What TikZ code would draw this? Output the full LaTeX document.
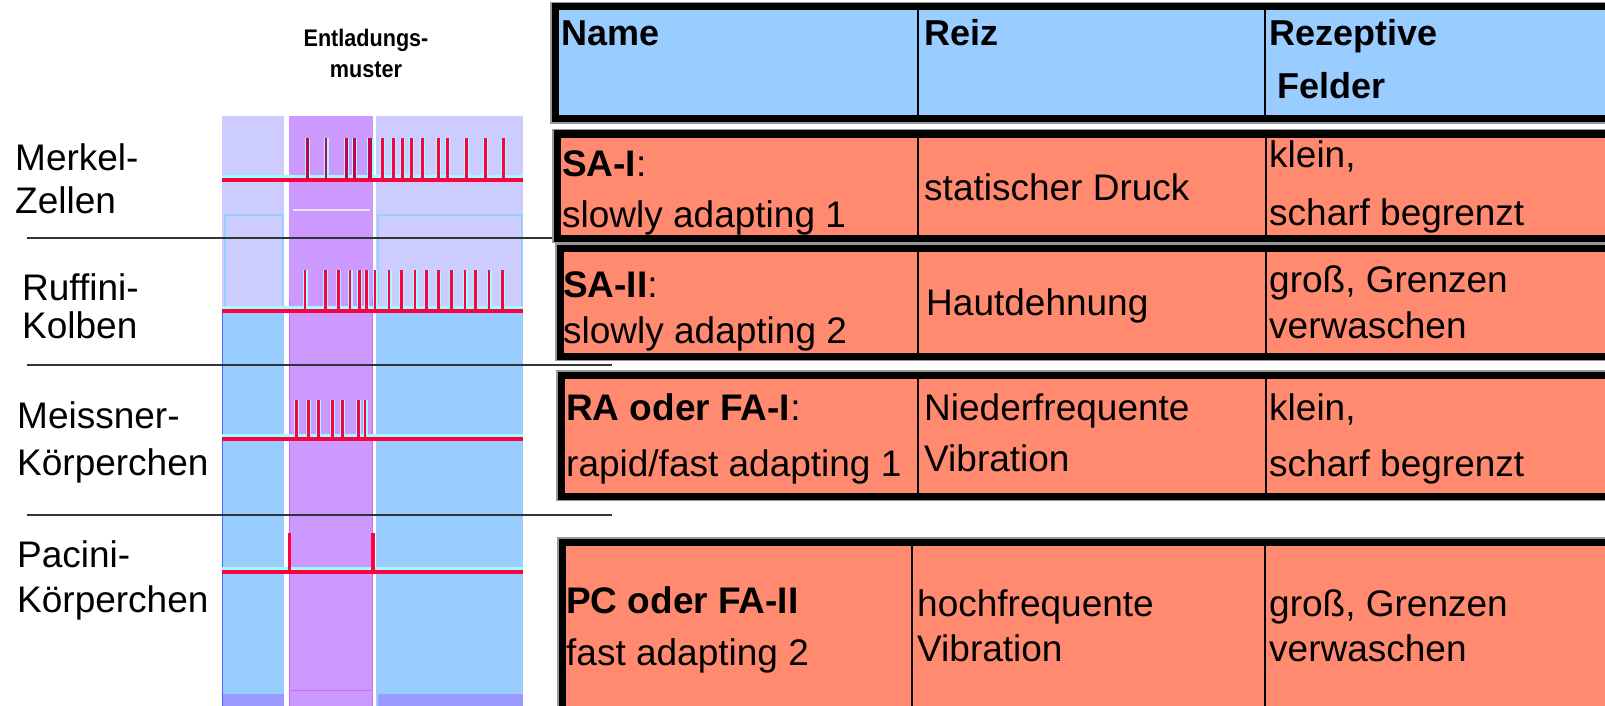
\documentclass[tikz,border=0pt]{standalone}
\usepackage{fontspec}
\setmainfont{Liberation Sans}
\definecolor{hdrblue}{HTML}{99CCFF}
\definecolor{salmon}{HTML}{FF8A70}
\definecolor{lav}{HTML}{CCCCFF}
\definecolor{purp}{HTML}{CC99FF}
\definecolor{purpedge}{HTML}{CC66FF}
\definecolor{spk}{HTML}{FF0040}
\definecolor{spkdark}{HTML}{CC0050}
\definecolor{glow}{HTML}{99FFFF}
\definecolor{strip}{HTML}{9999FF}
\newcommand\txr{\fontsize{37}{40}\selectfont}
\newcommand\txb{\fontsize{36}{40}\selectfont\bfseries}
\begin{document}
\begin{tikzpicture}[x=1pt,y=-1pt,
  lbl/.style={anchor=base west,inner sep=0pt,font=\txr},
  hdr/.style={anchor=base west,inner sep=0pt,font=\txb},
  rowbox/.style={line width=7pt,draw=black},
  rowshadow/.style={line width=10pt,draw=black!40},
  divider/.style={line width=1.6pt,draw=black},
  sepline/.style={line width=1.6pt,draw=black!80},
  glowline/.style={glow,line width=6pt},
  baseln/.style={spk,line width=4pt},
  spkglow/.style={glow,line width=5pt},
  spkline/.style={spk,line width=2.6pt}]
\useasboundingbox (0,0) rectangle (1605,706);
\clip (0,0) rectangle (1605,706);
\fill[white] (0,0) rectangle (1605,706);

% ---------- left panel (discharge patterns) ----------
\fill[lav] (222,116) rectangle (284,313);
\fill[lav] (376,116) rectangle (523,313);
\fill[hdrblue] (222,313) rectangle (284,706);
\fill[hdrblue] (376,313) rectangle (523,706);
\fill[strip] (222,694) rectangle (284,706);
\fill[strip] (378,694) rectangle (523,706);
\fill[purp] (289,116) rectangle (373,706);
\draw[purpedge,line width=1.2pt] (289.5,300) -- (289.5,706);
\draw[purpedge,line width=1.2pt] (372.5,300) -- (372.5,706);
\draw[purpedge,line width=1pt] (291,690) -- (371,690);
\draw[hdrblue,line width=1.2pt] (225,313) -- (225,215) -- (283,215) -- (283,313);
\draw[hdrblue,line width=1.2pt] (378,313) -- (378,215) -- (522,215) -- (522,313);
\draw[white!70!purp,line width=1.2pt] (293,210) -- (370,210);
\draw[blue!50!hdrblue,line width=1pt] (222.5,313) -- (222.5,706);

% Merkel
\draw[glowline] (222,178) -- (523,178);
\foreach \x in {307.7,326,346.7,354.3,382.7,393.3,402.7,411.7,422.7,438.3,447.3,466.7,485.7,503.3}
  \draw[spkglow] (\x,180) -- (\x,138);
\draw[glow,line width=7pt] (370,180) -- (370,138);
\draw[baseln] (222,180) -- (523,180);
\foreach \x in {307.7,326,346.7,354.3}
  \draw[spkdark,line width=2.6pt] (\x,180) -- (\x,138);
\draw[spkdark,line width=4.5pt] (370,180) -- (370,138);
\foreach \x in {382.7,393.3,402.7,411.7,422.7,438.3,447.3,466.7,485.7,503.3}
  \draw[spkline] (\x,180) -- (\x,138);

% Ruffini
\draw[glowline] (222,309) -- (523,309);
\foreach \x in {305,325.7,338.3,350,359.3,366.7,375,389,401.3,415,426.7,438.3,451.7,465,475.7,489,502.3}
  \draw[spkglow] (\x,311) -- (\x,270);
\draw[baseln] (222,311) -- (523,311);
\foreach \x in {305,325.7,338.3,350,359.3,366.7,375,389,401.3,415,426.7,438.3,451.7,465,475.7,489,502.3}
  \draw[spkline] (\x,311) -- (\x,270);

% Meissner
\draw[glowline] (222,437) -- (523,437);
\foreach \x in {296.7,308.3,318.3,332.7,342.3,358.3,365}
  \draw[spkglow] (\x,439) -- (\x,400);
\draw[baseln] (222,439) -- (523,439);
\foreach \x in {296.7,308.3,318.3,332.7,342.3,358.3,365}
  \draw[spkline] (\x,439) -- (\x,400);

% Pacini
\draw[glowline] (222,570) -- (523,570);
\draw[baseln] (222,572) -- (523,572);
\foreach \x in {289.5,373}
  \draw[spk,line width=3.2pt] (\x,572) -- (\x,533);

% title of discharge patterns
\node[anchor=base,inner sep=0pt,font=\fontsize{24}{26}\selectfont\bfseries] (ttl1) at (366,47) {\scalebox{0.9}[1]{Entladungs-}};
\node[anchor=base,inner sep=0pt,font=\fontsize{24}{26}\selectfont\bfseries] (ttl2) at (366,78) {\scalebox{0.9}[1]{muster}};

% receptor labels
\node[lbl] (mk1) at (15,170) {Merkel-};
\node[lbl] (mk2) at (15,213) {Zellen};
\node[lbl] (rf1) at (22,300) {Ruffini-};
\node[lbl] (rf2) at (22,338) {Kolben};
\node[lbl] (ms1) at (17,428) {Meissner-};
\node[lbl] (ms2) at (17,475) {Körperchen};
\node[lbl] (pc1) at (17,567) {Pacini-};
\node[lbl] (pc2) at (17,612) {Körperchen};

% separator lines
\draw[sepline] (27,238) -- (555,238);
\draw[sepline] (27,365) -- (612,365);
\draw[sepline] (27,515) -- (612,515);

% ---------- table ----------
% header
\draw[rowshadow] (555,7) rectangle (1640,119);
\draw[rowbox,fill=hdrblue] (555,7) rectangle (1640,119);
\draw[divider] (918,10) -- (918,116);
\draw[divider] (1265,10) -- (1265,116);
% SA-I
\draw[rowshadow] (557,134) rectangle (1640,238);
\draw[rowbox,fill=salmon] (557,134) rectangle (1640,238);
\draw[divider] (918,137) -- (918,235);
\draw[divider] (1266,137) -- (1266,235);
% SA-II
\draw[rowshadow] (560,248) rectangle (1640,356);
\draw[rowbox,fill=salmon] (560,248) rectangle (1640,356);
\draw[divider] (918,251) -- (918,353);
\draw[divider] (1266,251) -- (1266,353);
% RA
\draw[rowshadow] (561,375) rectangle (1640,496);
\draw[rowbox,fill=salmon] (561,375) rectangle (1640,496);
\draw[divider] (918,378) -- (918,493);
\draw[divider] (1266,378) -- (1266,493);
% PC
\draw[rowshadow] (562,542) rectangle (1640,712);
\draw[rowbox,fill=salmon] (562,542) rectangle (1640,712);
\draw[divider] (912,545) -- (912,706);
\draw[divider] (1265,545) -- (1265,706);

% header text
\node[hdr] (hname) at (561,46) {Name};
\node[hdr] (hreiz) at (924,46) {Reiz};
\node[hdr] (hrez1) at (1269,46) {Rezeptive};
\node[hdr] (hrez2) at (1277,99) {Felder};

% SA-I row
\node[lbl] (a1) at (562,176) {\textbf{SA-I}:};
\node[lbl] (a2) at (562,227) {slowly adapting 1};
\node[lbl] (a3) at (924,200) {statischer Druck};
\node[lbl] (a4) at (1269,167) {klein,};
\node[lbl] (a5) at (1269,225) {scharf begrenzt};

% SA-II row
\node[lbl] (b1) at (563,297) {\textbf{SA-II}:};
\node[lbl] (b2) at (563,343) {slowly adapting 2};
\node[lbl] (b3) at (926,315) {Hautdehnung};
\node[lbl] (b4) at (1269,292) {groß, Grenzen};
\node[lbl] (b5) at (1269,338) {verwaschen};

% RA row
\node[lbl] (c1) at (566,420) {\textbf{RA oder FA-I}:};
\node[lbl] (c2) at (566,476) {rapid/fast adapting 1};
\node[lbl] (c3) at (924,420) {Niederfrequente};
\node[lbl] (c4) at (924,471) {Vibration};
\node[lbl] (c5) at (1269,420) {klein,};
\node[lbl] (c6) at (1269,476) {scharf begrenzt};

% PC row
\node[lbl] (d1) at (566,613) {\textbf{PC oder FA-II}};
\node[lbl] (d2) at (566,665) {fast adapting 2};
\node[lbl] (d3) at (917,616) {hochfrequente};
\node[lbl] (d4) at (917,661) {Vibration};
\node[lbl] (d5) at (1269,616) {groß, Grenzen};
\node[lbl] (d6) at (1269,661) {verwaschen};
\end{tikzpicture}
\end{document}
